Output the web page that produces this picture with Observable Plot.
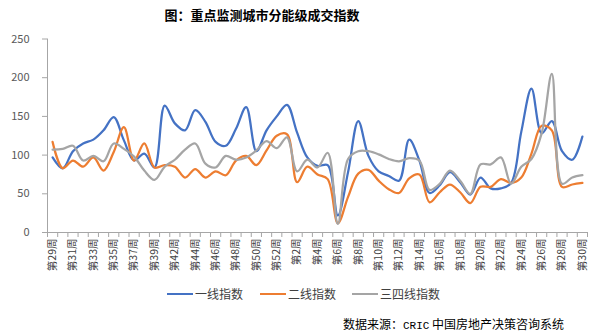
<!DOCTYPE html>
<html>
<head>
<meta charset="utf-8">
<script src="https://cdn.jsdelivr.net/npm/d3@7"></script>
<script src="https://cdn.jsdelivr.net/npm/@observablehq/plot@0.6"></script>
<style>
  html, body { margin: 0; padding: 0; background: #fff; }
  #wrap { position: relative; width: 610px; height: 332px; background: #fff; overflow: hidden;
          font-family: "Noto Sans CJK SC", "Noto Sans", sans-serif; }
  #title { position: absolute; top: 8px; left: 0; width: 524px; text-align: center;
           font-size: 13px; font-weight: bold; line-height: 14px; color: #000; }
  #chart { position: absolute; left: 0; top: 0; }
  .leg { position: absolute; top: 287px; height: 14px; display: flex; align-items: center;
         font-size: 12px; line-height: 14px; color: #404040; white-space: nowrap; }
  .leg i { display: inline-block; width: 26px; height: 2.5px; margin-right: 2px; }
  #caption { position: absolute; top: 317px; left: 343px; font-size: 12px; line-height: 14px;
             color: #000; white-space: nowrap; }
  #caption .mono { font-family: "Liberation Mono", "DejaVu Sans Mono", monospace; font-size: 11px; }
</style>
</head>
<body>
<div id="wrap">
  <div id="chart"></div>
  <div id="title"></div>
  <div id="legend"></div>
  <div id="caption">数据来源：<span class="mono">CRIC</span> 中国房地产决策咨询系统</div>
</div>
<script>
const titleText = "图：重点监测城市分能级成交指数";

const weeks = [
  "第29周","第30周","第31周","第32周","第33周","第34周","第35周","第36周","第37周","第38周",
  "第39周","第40周","第42周","第43周","第44周","第45周","第46周","第47周","第48周","第49周",
  "第50周","第51周","第52周","第1周","第2周","第3周","第4周","第5周","第6周","第7周",
  "第8周","第9周","第10周","第11周","第12周","第13周","第14周","第15周","第16周","第17周",
  "第18周","第19周","第20周","第21周","第22周","第23周","第24周","第25周","第26周","第27周",
  "第28周","第29周","第30周"
];

const seriesNames = ["一线指数", "二线指数", "三四线指数"];
const seriesColors = ["#4472C4", "#ED7D31", "#A5A5A5"];

const tier1 = [
  97, 83, 105, 115, 120, 132, 149, 119, 93, 102,
  84, 164, 141, 132, 158, 143, 117, 112, 134, 162,
  105, 132, 150, 165, 129, 97, 86, 87, 22, 78,
  144, 99, 79, 73, 67, 120, 93, 51, 61, 78,
  65, 49, 71, 57, 57, 64, 130, 186, 128, 144,
  105, 94, 124
];
const tier2 = [
  117, 83, 93, 85, 97, 80, 104, 136, 93, 115,
  84, 87, 85, 71, 82, 71, 79, 74, 93, 99,
  87, 106, 125, 127, 65, 85, 75, 69, 12, 46,
  76, 81, 67, 56, 51, 70, 75, 39, 52, 62,
  52, 38, 59, 59, 69, 64, 71, 102, 138, 132,
  59, 62, 64
];
const tier34 = [
  107, 108, 112, 93, 99, 92, 115, 108, 98, 80,
  68, 85, 94, 107, 115, 89, 84, 99, 94, 97,
  106, 118, 109, 123, 79, 94, 84, 103, 11, 95,
  105, 105, 101, 95, 92, 96, 93, 55, 63, 80,
  67, 50, 88, 88, 97, 63, 85, 95, 128, 205,
  63, 71, 74
];

const yTicks = [0, 50, 100, 150, 200, 250];

const seriesValues = [tier1, tier2, tier34];
const rows = [];
seriesNames.forEach((name, k) => {
  seriesValues[k].forEach((v, i) => rows.push({i, series: name, value: v}));
});

document.getElementById("title").textContent = titleText;

const axisColor = "#a6a6a6";
const n = weeks.length;

const chart = Plot.plot({
  width: 610,
  height: 332,
  marginTop: 38.5,
  marginBottom: 100,
  marginLeft: 47,
  marginRight: 23,
  style: {fontFamily: "'Noto Sans CJK SC', 'Noto Sans', sans-serif", fontSize: "11px", color: "#595959", background: "transparent", overflow: "visible"},
  x: {type: "linear", domain: [-0.5, n - 0.5]},
  y: {domain: [0, 250]},
  color: {domain: seriesNames, range: seriesColors},
  marks: [
    Plot.axisY({ticks: yTicks, tickSize: 5, tickPadding: 13, label: null, stroke: axisColor, fill: "#595959", fontSize: 11}),
    Plot.ruleX([-0.5], {stroke: axisColor}),
    Plot.axisX({ticks: d3.range(-0.5, n, 1), tickSize: 5, tickFormat: () => "", label: null, stroke: axisColor}),
    Plot.axisX({ticks: d3.range(0, n, 2), tickSize: 0, tickPadding: 6, tickRotate: -90, tickFormat: i => weeks[Math.round(i)], label: null, fill: "#404040", fontSize: 10.5}),
    Plot.ruleY([0], {stroke: axisColor}),
    Plot.line(rows, {x: "i", y: "value", stroke: "series", z: "series", strokeWidth: 2.25, curve: "catmull-rom"})
  ]
});
document.getElementById("chart").appendChild(chart);

const legLefts = [167, 260, 352];
const legend = document.getElementById("legend");
seriesNames.forEach((name, k) => {
  const d = document.createElement("div");
  d.className = "leg";
  d.style.left = legLefts[k] + "px";
  const sw = document.createElement("i");
  sw.style.background = seriesColors[k];
  d.appendChild(sw);
  d.appendChild(document.createTextNode(name));
  legend.appendChild(d);
});
</script>
</body>
</html>
